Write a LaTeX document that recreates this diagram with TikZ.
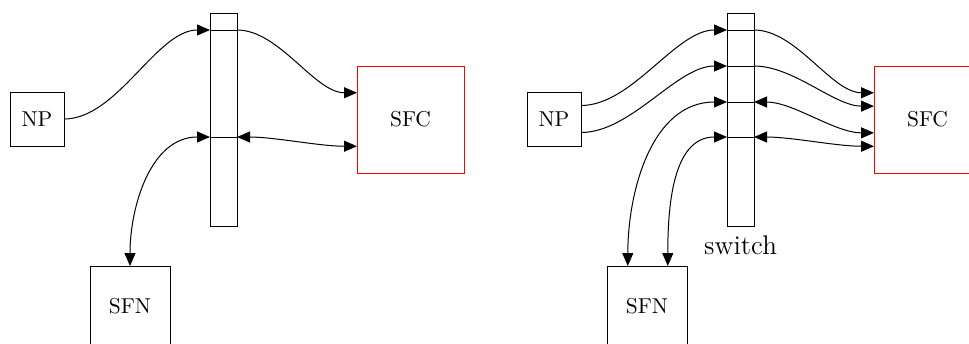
\documentclass[tikz,border=0pt]{standalone}
\usetikzlibrary{arrows.meta,calc}
\begin{document}
\begin{tikzpicture}[x=0.5pt,y=-0.5pt,
  every node/.style={inner sep=0pt, outer sep=0pt},
  unit/.style={draw, line width=0.5pt, font=\fontsize{10.75}{13}\selectfont},
  npbox/.style={unit, minimum width=27pt, minimum height=27pt},
  sfcbox/.style={unit, draw=red, minimum width=53.5pt, minimum height=53.5pt},
  sfnbox/.style={unit, minimum width=40pt, minimum height=40pt},
  bar/.style={draw, line width=0.5pt, minimum width=13.5pt, minimum height=106.5pt},
  lane/.style={line width=0.5pt},
  tip/.tip={Triangle[length=6.5pt,width=5.5pt]},
  wire/.style={lane, -tip, out=0, in=180, looseness=0.8},
  duplex/.style={lane, tip-tip, out=0, in=180, looseness=0.8},
  uplink/.style={lane, tip-tip, out=90, in=180}]
\clip (0,0) rectangle (969,343);
\useasboundingbox (0,0) rectangle (969,343);

% ---------- single flow ----------
\node[npbox]  (np1)  at (37,119)    {NP};
\node[bar]    (sw1)  at (223.5,119.5) {};
\node[sfcbox] (sfc1) at (410.5,119.5) {SFC};
\node[sfnbox] (sfn1) at (130,306)   {SFN};

\coordinate (a1w) at (210,30);  \coordinate (a1e) at (237,30);
\coordinate (d1w) at (210,137); \coordinate (d1e) at (237,137);

\draw[lane] (a1w) -- (a1e);
\draw[lane] (d1w) -- (d1e);
\draw[wire] (np1.east) to (a1w);
\draw[wire] (a1e) to ($(sfc1.north west)!0.25!(sfc1.south west)$);
\draw[duplex] (d1e) to ($(sfc1.north west)!0.75!(sfc1.south west)$);
\draw[uplink] (sfn1.north) to (d1w);

% ---------- two flows ----------
\node[npbox]  (np2)  at (554,119)     {NP};
\node[bar]    (sw2)  at (740.5,119.5) {};
\node[sfcbox] (sfc2) at (927.5,119.5) {SFC};
\node[sfnbox] (sfn2) at (647,306)     {SFN};
\node[font=\fontsize{13.5}{16}\selectfont, anchor=base] (lbl) at (740.5,254) {switch};

\coordinate (a2w) at (727,30);  \coordinate (a2e) at (754,30);
\coordinate (b2w) at (727,66);  \coordinate (b2e) at (754,66);
\coordinate (c2w) at (727,102); \coordinate (c2e) at (754,102);
\coordinate (d2w) at (727,137); \coordinate (d2e) at (754,137);

\foreach \p in {a,b,c,d} \draw[lane] (\p2w) -- (\p2e);

\draw[wire] ($(np2.north east)!0.25!(np2.south east)$) to (a2w);
\draw[wire] ($(np2.north east)!0.75!(np2.south east)$) to (b2w);
\draw[wire] (a2e) to ($(sfc2.north west)!0.25!(sfc2.south west)$);
\draw[wire] (b2e) to ($(sfc2.north west)!0.375!(sfc2.south west)$);
\draw[duplex] (c2e) to ($(sfc2.north west)!0.625!(sfc2.south west)$);
\draw[duplex] (d2e) to ($(sfc2.north west)!0.75!(sfc2.south west)$);
\draw[uplink] ($(sfn2.north west)!0.26!(sfn2.north east)$) to (c2w);
\draw[uplink] ($(sfn2.north west)!0.76!(sfn2.north east)$) to (d2w);
\end{tikzpicture}
\end{document}
